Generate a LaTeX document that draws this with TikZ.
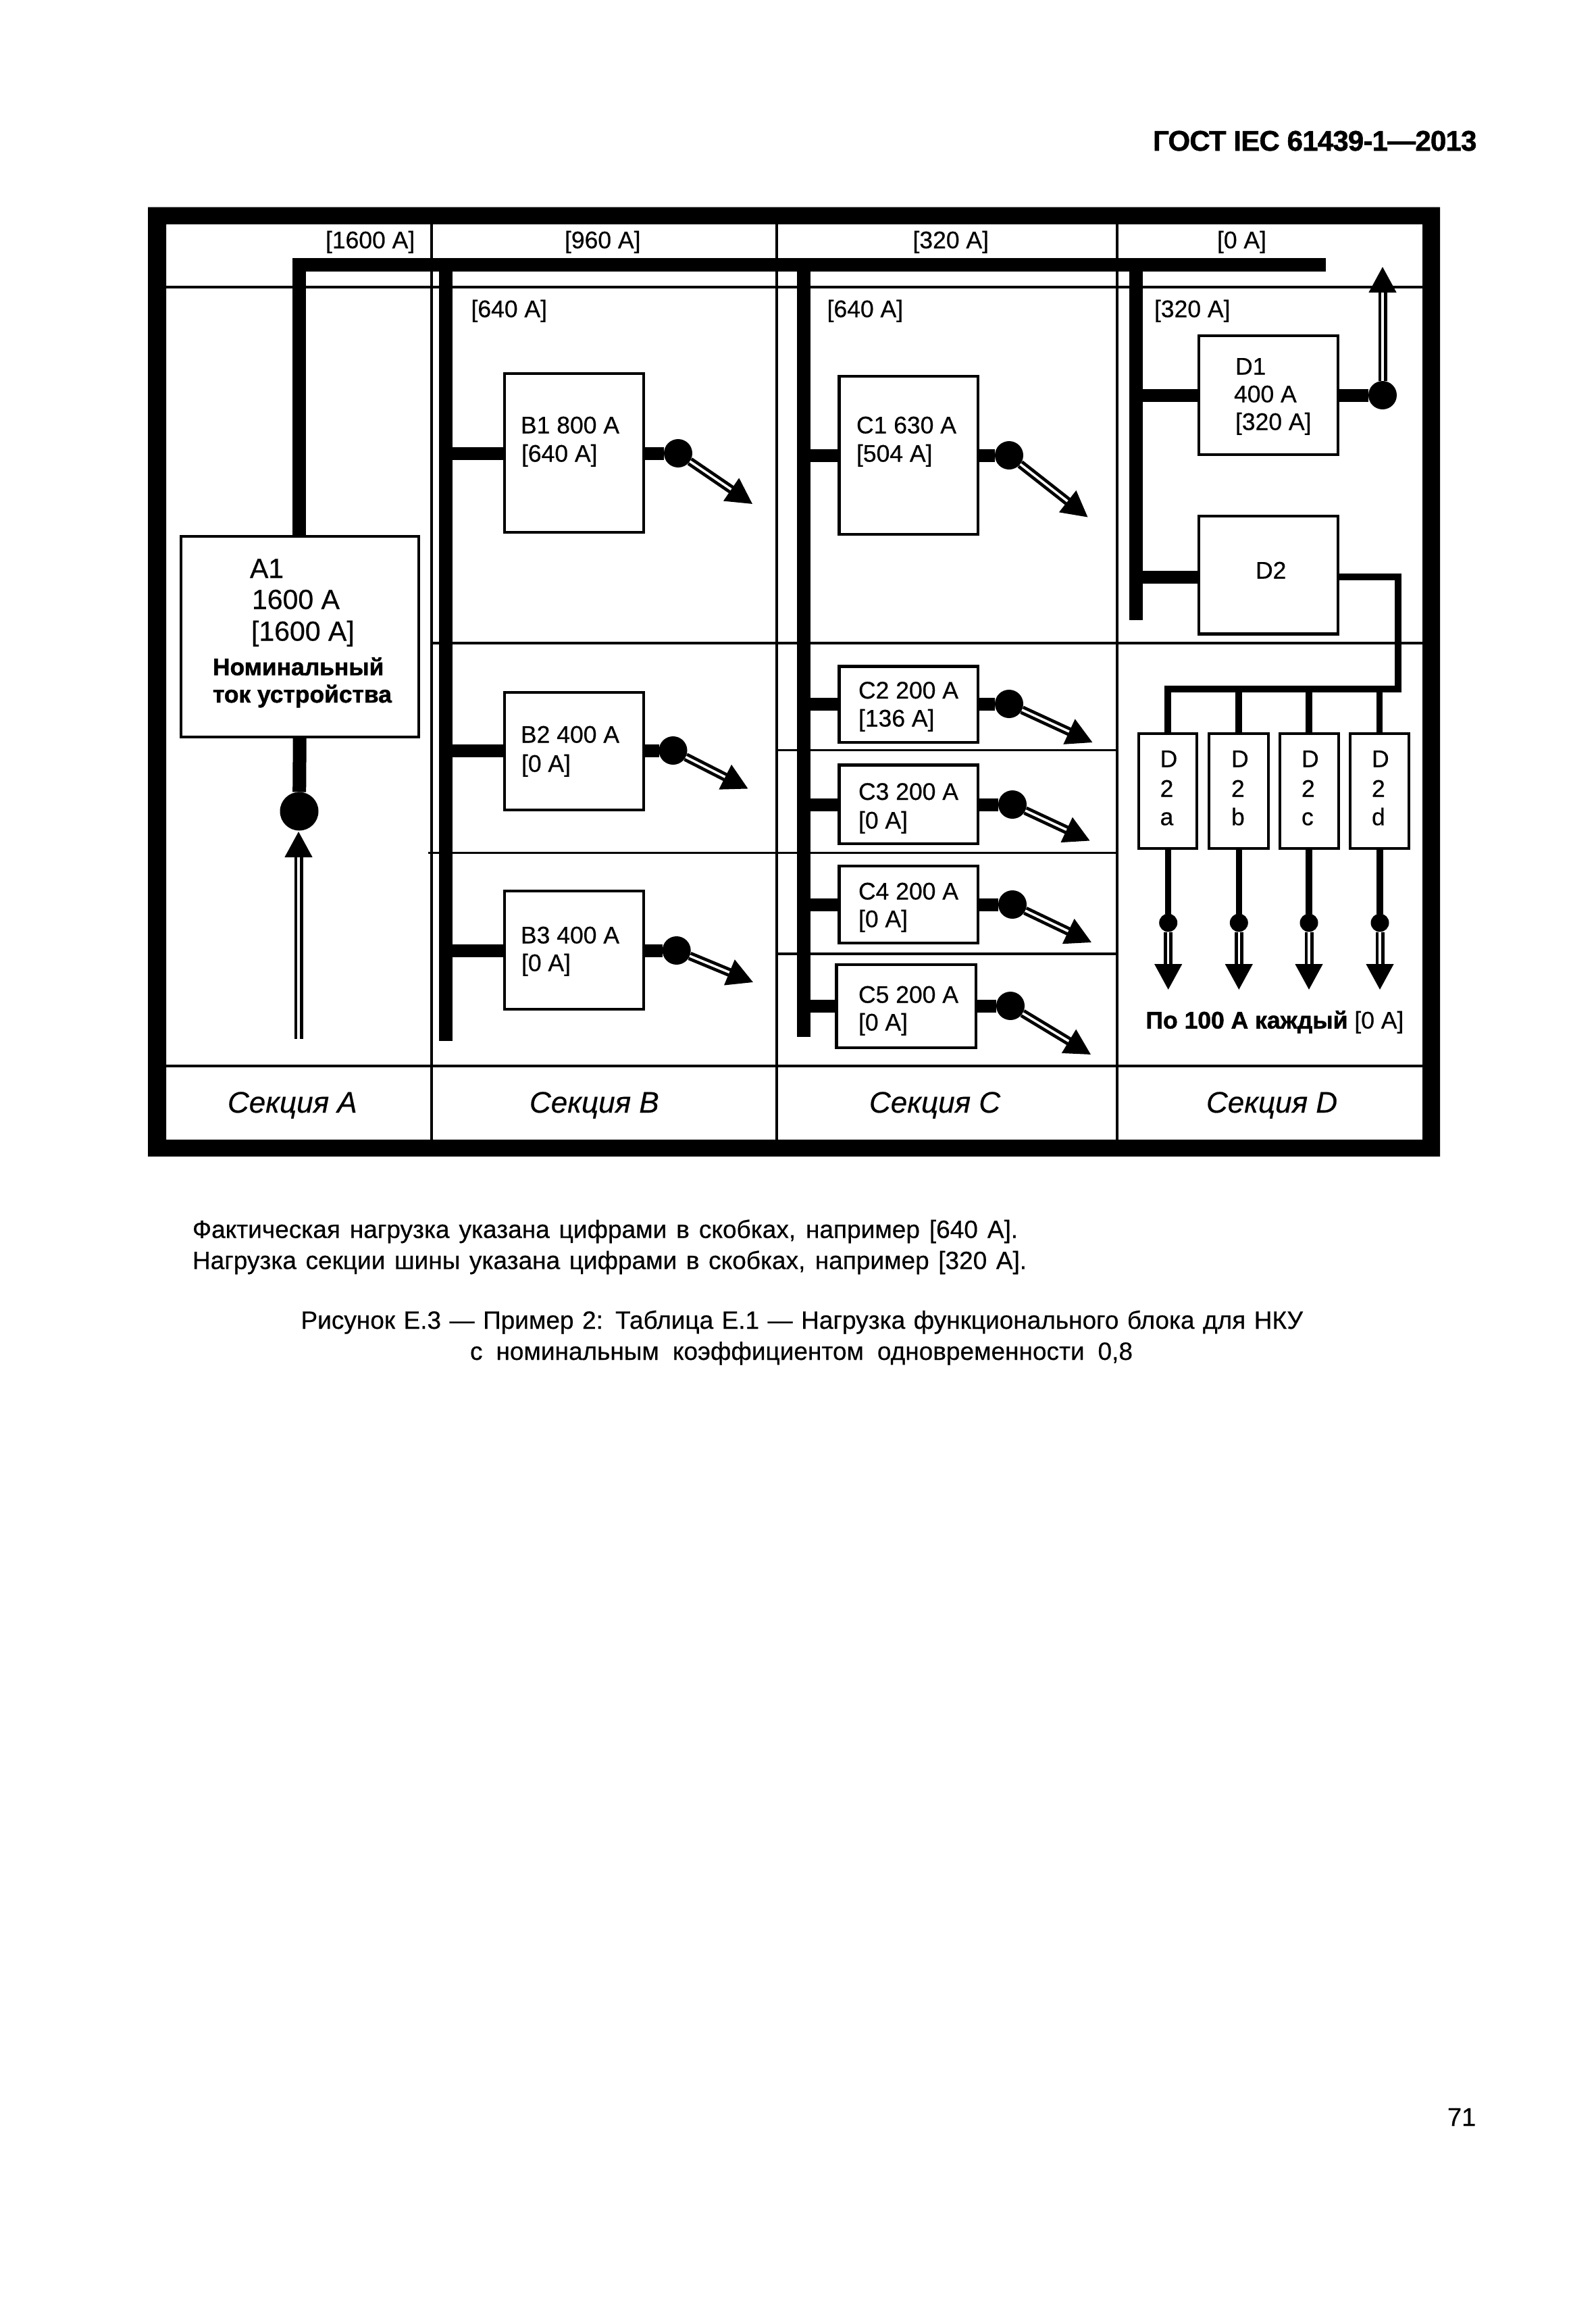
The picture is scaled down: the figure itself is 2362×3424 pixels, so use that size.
\documentclass[tikz,border=0pt]{standalone}
\usepackage{fontspec}
\setmainfont{Liberation Sans}[FakeBold=0.45,BoldFeatures={FakeBold=1.3}]
\usetikzlibrary{arrows.meta}
\tikzset{
  txt/.style={anchor=base west,inner sep=0pt,outer sep=0pt,font=\fontsize{35.5}{36}\selectfont},
  lbl/.style={txt,yshift=1.5pt},
  lblbig/.style={lbl,font=\fontsize{41}{41}\selectfont},
  lblbold/.style={lbl,font=\fontsize{35.4}{36}\selectfont\bfseries},
  sect/.style={txt,font=\fontsize{44}{44}\selectfont\itshape},
  note/.style={txt,font=\fontsize{37}{37}\selectfont},
  grid/.style={draw=black,line width=3.6pt},
  bus/.style={draw=black,line width=20pt,line cap=butt,line join=miter},
  stub/.style={draw=black,line width=19pt,line cap=butt},
  thin bus/.style={draw=black,line width=9.5pt,line cap=butt,line join=miter},
  boxn/.style 2 args={draw=black,fill=white,line width=4.2pt,inner sep=0pt,outer sep=0pt,minimum width=#1pt-3.6pt,minimum height=#2pt-3.6pt},
  dot/.style={circle,fill=black,inner sep=0pt,outer sep=0pt,minimum size=42pt},
  bigdot/.style={dot,minimum size=57pt},
  smalldot/.style={dot,minimum size=27pt},
  dblarrow/.style={draw=black,line width=4.75pt,double=white,double distance=3.5pt,
    -{Triangle[length=38pt,width=40pt]}},
}
\begin{document}
\begin{tikzpicture}[x=1pt,y=-1pt]
\useasboundingbox (0,0) rectangle (2362,3424);
% frame
\fill[black,even odd rule] (219,306.5) rectangle (2132,1712) (246,332) rectangle (2106,1687);
% grid
\coordinate (gL) at (246,424.7);
\coordinate (gR) at (2106,424.7);
\coordinate (v1t) at (639,332);   \coordinate (v1b) at (639,1687);
\coordinate (v2t) at (1150,332);  \coordinate (v2b) at (1150,1687);
\coordinate (v3t) at (1654,332);  \coordinate (v3b) at (1654,1687);
\coordinate (sL) at (246,1578);   \coordinate (sR) at (2106,1578);
\coordinate (m1L) at (639,951.8); \coordinate (m1R) at (2106,951.8);
\coordinate (m2L) at (634,1262.6);\coordinate (m2R) at (1654,1262.6);
\coordinate (m3L) at (1150,1110.5);\coordinate (m3R) at (1654,1110.5);
\coordinate (m4L) at (1150,1412); \coordinate (m4R) at (1654,1412);
\draw[grid] (gL)--(gR) (sL)--(sR) (m1L)--(m1R) (m2L)--(m2R) (m3L)--(m3R) (m4L)--(m4R)
  (v1t)--(v1b) (v2t)--(v2b) (v3t)--(v3b);
% boxes
\node[boxn={355.5}{301}] (a1) at (443.75,942.3) {};
\node[boxn={209.5}{239}] (b1) at (849.75,670.5) {};
\node[boxn={209.5}{178}] (b2) at (849.75,1112) {};
\node[boxn={209.5}{179}] (b3) at (849.75,1406.5) {};
\node[boxn={209.4}{238}] (c1) at (1345.3,674) {};
\node[boxn={209.4}{116.4}] (c2) at (1345.3,1042.8) {};
\node[boxn={209.4}{120.4}] (c3) at (1345.3,1190.8) {};
\node[boxn={209.4}{118}] (c4) at (1345.3,1339) {};
\node[boxn={209.8}{127}] (c5) at (1341.6,1489.5) {};
\node[boxn={209}{179}] (d1) at (1878,585) {};
\node[boxn={209}{178.4}] (d2) at (1878,851) {};
\node[boxn={89.6}{173.6}] (da) at (1729.2,1171) {};
\node[boxn={91}{173.6}] (db) at (1834,1171) {};
\node[boxn={90.5}{173.6}] (dc) at (1938.2,1171) {};
\node[boxn={90}{173.6}] (dd) at (2042.5,1171) {};
% bus bars
\coordinate (busL) at (443,391.5);
\coordinate (busR) at (1963,391.5);
\coordinate (bT) at (660,391.5);  \coordinate (bB) at (660,1541);
\coordinate (cT) at (1190,391.5); \coordinate (cB) at (1190,1535);
\coordinate (dT) at (1681.5,391.5); \coordinate (dB) at (1681.5,918.3);
\draw[bus] (a1.north -| busL) -- (busL) -- (busR);
\draw[bus] (bT)--(bB);
\draw[bus] (cT)--(cB);
\draw[bus] (dT)--(dB);
% dots
\node[bigdot] (adot) at (443,1201) {};
\node[dot] (b1d) at (1004,671) {};
\node[dot] (b2d) at (996.5,1111) {};
\node[dot] (b3d) at (1001.7,1407) {};
\node[dot] (c1d) at (1494,674) {};
\node[dot] (c2d) at (1494,1042) {};
\node[dot] (c3d) at (1499,1191) {};
\node[dot] (c4d) at (1499,1339) {};
\node[dot] (c5d) at (1496,1489) {};
\node[dot] (d1d) at (2047,585) {};
\node[smalldot] (dad) at (1729.7,1366) {};
\node[smalldot] (dbd) at (1834.3,1366) {};
\node[smalldot] (dcd) at (1938,1366) {};
\node[smalldot] (ddd) at (2043,1366) {};
% free ends of the arrows
\coordinate (ain) at (442,1538);  \coordinate (atip) at (442,1231);
\coordinate (b1t) at (1114,746);
\coordinate (b2t) at (1107.5,1167.5);
\coordinate (b3t) at (1115,1454);
\coordinate (c1t) at (1610.5,765.6);
\coordinate (c2t) at (1617.5,1099);
\coordinate (c3t) at (1613.6,1244.5);
\coordinate (c4t) at (1616,1395);
\coordinate (c5t) at (1615,1561);
\coordinate (d1t) at (2047,395);
\coordinate (dat) at (1729.7,1465);
\coordinate (dbt) at (1834.3,1465);
\coordinate (dct) at (1938,1465);
\coordinate (ddt) at (2043,1465);
% A section
\draw[bus] (a1.south) -- (adot);
\draw[dblarrow] (ain) -- (atip);
% stubs
\foreach \nn/\busn in {b1/bT,b2/bT,b3/bT,c1/cT,c2/cT,c3/cT,c4/cT,c5/cT,d1/dT}{
  \draw[stub] (\nn d -| \busn) -- (\nn d -| \nn.west);
  \draw[stub] (\nn d -| \nn.east) -- (\nn d);
  \draw[dblarrow] (\nn d) -- (\nn t);
}
\coordinate (d2s) at (1681.5,854);
\draw[stub] (d2s) -- (d2s -| d2.west);
% D2 feeder
\coordinate (f1) at (2070,854);
\coordinate (f2) at (2070,1020);
\draw[thin bus] (f1 -| d2.east) -- (f1) -- (f2) -- (f2 -| da.north) -- (da.north);
\draw[thin bus] (f2 -| db.north) -- (db.north);
\draw[thin bus] (f2 -| dc.north) -- (dc.north);
\draw[thin bus] (f2 -| dd.north) -- (dd.north);
\foreach \nn in {da,db,dc,dd}{
  \draw[thin bus] (\nn d |- \nn.south) -- (\nn d);
  \draw[dblarrow] (\nn d) -- (\nn t);
}
% header labels
\node[lbl] (h1) at (482,369) {[1600 А]};
\node[lbl] (h2) at (836,369) {[960 А]};
\node[lbl] (h3) at (1351.5,369) {[320 А]};
\node[lbl] (h4) at (1802,369) {[0 А]};
\node[lbl] (s1) at (697.5,471) {[640 А]};
\node[lbl] (s2) at (1224.6,471) {[640 А]};
\node[lbl] (s3) at (1709,471) {[320 А]};
% A1
\node[lblbig] (a1x) at (370,857) {A1};
\node[lblbig] (a1y) at (373,903) {1600 А};
\node[lblbig] (a1z) at (372,950) {[1600 А]};
\node[lblbold] (a1n) at (315,1001) {Номинальный};
\node[lblbold] (a1m) at (315,1041.5) {ток устройства};
% B
\node[lbl] (b1x) at (771,643) {B1 800 А};
\node[lbl] (b1y) at (772,685) {[640 А]};
\node[lbl] (b2x) at (771,1101) {B2 400 А};
\node[lbl] (b2y) at (772,1144) {[0 А]};
\node[lbl] (b3x) at (771,1398) {B3 400 А};
\node[lbl] (b3y) at (772,1439) {[0 А]};
% C
\node[lbl] (c1x) at (1268,643) {C1 630 А};
\node[lbl] (c1y) at (1268,685) {[504 А]};
\node[lbl] (c2x) at (1271,1035.5) {C2 200 А};
\node[lbl] (c2y) at (1271,1077) {[136 А]};
\node[lbl] (c3x) at (1271,1185.5) {C3 200 А};
\node[lbl] (c3y) at (1271,1228) {[0 А]};
\node[lbl] (c4x) at (1271,1333) {C4 200 А};
\node[lbl] (c4y) at (1271,1374) {[0 А]};
\node[lbl] (c5x) at (1271,1486) {C5 200 А};
\node[lbl] (c5y) at (1271,1527) {[0 А]};
% D
\node[lbl] (d1x) at (1829,556) {D1};
\node[lbl] (d1y) at (1827,597) {400 А};
\node[lbl] (d1z) at (1829,638) {[320 А]};
\node[lbl] (d2x) at (1859,858) {D2};
\foreach \nn/\xx/\ch in {a/1717.6/a,b/1823/b,c/1927/c,d/2031/d}{
  \node[lbl] (d\nn p) at (\xx,1137) {D};
  \node[lbl] (d\nn q) at (\xx,1181) {2};
  \node[lbl] (d\nn r) at (\xx,1223) {\ch};
}
\node[lbl] (each) at (1696.5,1524) {\textbf{По 100 А каждый} [0 А]};
% sections
\node[sect] (sa) at (337,1647) {Секция A};
\node[sect] (sb) at (784,1647) {Секция B};
\node[sect] (sc) at (1287,1647) {Секция C};
\node[sect] (sd) at (1786,1647) {Секция D};
% page texts
\node[txt,font=\fontsize{42}{42}\selectfont\bfseries\addfontfeature{LetterSpace=-1.9}] (top) at (1707,223) {ГОСТ IEC 61439-1—2013};
\node[txt,font=\fontsize{38}{38}\selectfont] (page) at (2143,3147) {71};
\node[note] (n1) at (285,1832.6) {\hbox to 1222pt{Фактическая нагрузка указана цифрами в скобках, например [640 А].}};
\node[note] (n2) at (285,1878.6) {\hbox to 1235pt{Нагрузка секции шины указана цифрами в скобках, например [320 А].}};
\node[note] (n3) at (445.5,1967) {\hbox to 1483.5pt{Рисунок Е.3 — Пример 2: Таблица Е.1 — Нагрузка функционального блока для НКУ}};
\node[note] (n4) at (696,2013) {\hbox to 981pt{с номинальным коэффициентом одновременности 0,8}};
\end{tikzpicture}
\end{document}
